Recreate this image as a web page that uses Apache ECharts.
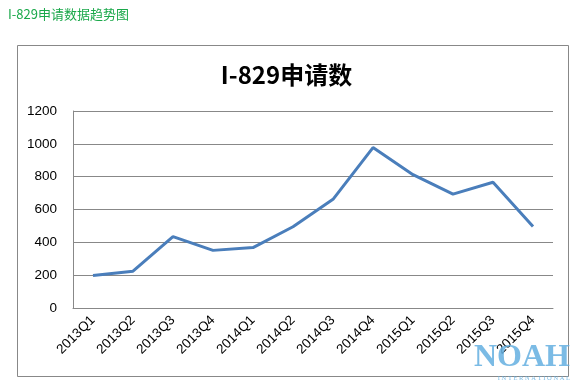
<!DOCTYPE html>
<html><head><meta charset="utf-8">
<script src="https://cdn.jsdelivr.net/npm/echarts@6/dist/echarts.min.js"></script>
<style>html,body{margin:0;padding:0;background:#fff}#c{width:573px;height:383px}</style>
</head><body><div id="c"></div>
<script>
const categories = ['2013Q1','2013Q2','2013Q3','2013Q4','2014Q1','2014Q2','2014Q3','2014Q4','2015Q1','2015Q2','2015Q3','2015Q4'];
const values = [198, 224, 435, 351, 368, 495, 662, 977, 812, 694, 766, 496];
const yTicks = [0, 200, 400, 600, 800, 1000, 1200];
const pageTitle = 'I-829申请数据趋势图';
const chartTitle = 'I-829申请数';

const chart = echarts.init(document.getElementById('c'), null, {renderer:'canvas'});
chart.setOption({
  animation: false,
  backgroundColor: '#fff',
  title: [
    {text: pageTitle, left: 3, top: 3, textStyle:{color:'#1aa84a', fontSize:13, fontWeight:'normal', fontFamily:'Noto Sans CJK SC'}},
    {text: chartTitle, left: 'center', top: 58, textStyle:{color:'#000', fontSize:24, fontWeight:'bold', fontFamily:'Noto Sans CJK SC'}}
  ],
  graphic: [
    {type:'rect', shape:{x:17.5, y:45.5, width:551, height:331}, style:{fill:'none', stroke:'#888', lineWidth:1}, z:-1},
    {type:'text', right: 3, bottom: 9, z:100, style:{text:'NOAH', fill:'rgba(100,175,225,0.85)', font:'bold 32px "Liberation Serif"'}},
    {type:'text', right: 3, bottom: 1, z:100, style:{text:'I N T E R N A T I O N A L', fill:'rgba(100,175,225,0.85)', font:'6.5px "Liberation Serif"'}}
  ],
  grid: {left: 73, right: 20, top: 111, bottom: 75, containLabel: false},
  xAxis: {
    type:'category', data: categories, boundaryGap: true,
    axisLine:{show:true, lineStyle:{color:'#888', width:1}},
    axisTick:{show:false},
    axisLabel:{rotate:45, color:'#000', fontSize:13.5, margin:10, interval:0, fontFamily:'Liberation Sans'}
  },
  yAxis: {
    type:'value', min: yTicks[0], max: yTicks[yTicks.length-1], interval: 200,
    axisLine:{show:true, lineStyle:{color:'#888', width:1}},
    axisTick:{show:false},
    splitLine:{show:true, lineStyle:{color:'#888', width:1}},
    axisLabel:{color:'#000', fontSize:13.5, margin:16, fontFamily:'Liberation Sans', formatter: v => String(v)}
  },
  series: [{
    type:'line', data: values, symbol:'none', smooth:false,
    lineStyle:{color:'#4a7ebb', width:3}
  }]
});
</script></body></html>
